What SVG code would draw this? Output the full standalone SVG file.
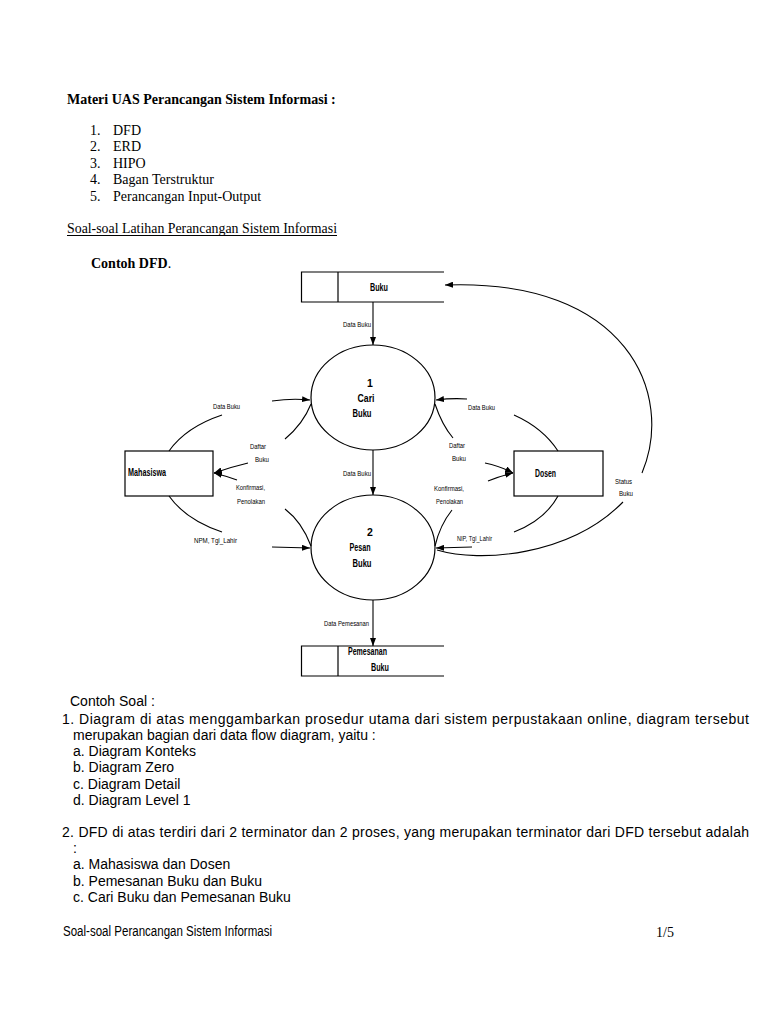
<svg xmlns="http://www.w3.org/2000/svg" width="768" height="1024" viewBox="0 0 768 1024">
<style>
.serif{font-family:"Liberation Serif","Times New Roman",serif;font-size:14px;fill:#000}
.sans{font-family:"Liberation Sans",Arial,sans-serif;font-size:14px;fill:#000}
.lbl{font-family:"Liberation Sans",Arial,sans-serif;font-size:8px;fill:#000}
.nl{font-family:"Liberation Sans",Arial,sans-serif;font-size:10.5px;font-weight:bold;fill:#000}
.ln{fill:none;stroke:#000;stroke-width:1.1}
.shape{fill:#fff;stroke:#000;stroke-width:1.2}
</style>
<defs>
<marker id="ah" markerWidth="8" markerHeight="6" refX="8" refY="3" orient="auto" markerUnits="userSpaceOnUse">
<path d="M0,0 L8,3 L0,6 Z" fill="#000"/>
</marker>
</defs>
<rect width="768" height="1024" fill="#fff"/>

<g id="header">
<text class="serif" x="67" y="104" font-weight="bold" font-size="13.2">Materi UAS Perancangan Sistem Informasi :</text>
<text class="serif" x="90" y="135">1.</text><text class="serif" x="113" y="135">DFD</text>
<text class="serif" x="90" y="151">2.</text><text class="serif" x="113" y="151">ERD</text>
<text class="serif" x="90" y="168">3.</text><text class="serif" x="113" y="168">HIPO</text>
<text class="serif" x="90" y="184">4.</text><text class="serif" x="113" y="184">Bagan Terstruktur</text>
<text class="serif" x="90" y="201">5.</text><text class="serif" x="113" y="201">Perancangan Input-Output</text>
<text class="serif" x="67" y="233" textLength="270" lengthAdjust="spacingAndGlyphs">Soal-soal Latihan Perancangan Sistem Informasi</text>
<line x1="67" y1="235.5" x2="337" y2="235.5" stroke="#000" stroke-width="1"/>
<text class="serif" x="91" y="268" font-weight="bold">Contoh DFD<tspan font-weight="normal">.</tspan></text>
</g>

<g id="store-buku">
<path class="shape" d="M444,272 H301.5 V302 H444" />
<line x1="338" y1="272" x2="338" y2="302" stroke="#000" stroke-width="1.2"/>
<text class="nl" x="379" y="291" text-anchor="middle" textLength="18" lengthAdjust="spacingAndGlyphs">Buku</text>
</g>

<g id="store-pemesanan">
<path class="shape" d="M444,646 H301.5 V676 H444" />
<line x1="338" y1="646" x2="338" y2="676" stroke="#000" stroke-width="1.2"/>
<text class="nl" x="348" y="655" textLength="39" lengthAdjust="spacingAndGlyphs">Pemesanan</text>
<text class="nl" x="371" y="671" textLength="18" lengthAdjust="spacingAndGlyphs">Buku</text>
</g>

<g id="proc-1">
<ellipse class="shape" cx="373" cy="397.5" rx="62" ry="52.5"/>
<text class="nl" x="370" y="387" text-anchor="middle">1</text>
<text class="nl" x="366" y="402" text-anchor="middle" textLength="17" lengthAdjust="spacingAndGlyphs">Cari</text>
<text class="nl" x="362" y="417" text-anchor="middle" textLength="19" lengthAdjust="spacingAndGlyphs">Buku</text>
</g>

<g id="proc-2">
<ellipse class="shape" cx="373" cy="547.5" rx="62" ry="52.5"/>
<text class="nl" x="370" y="536" text-anchor="middle">2</text>
<text class="nl" x="360" y="551" text-anchor="middle" textLength="21" lengthAdjust="spacingAndGlyphs">Pesan</text>
<text class="nl" x="362" y="567" text-anchor="middle" textLength="19" lengthAdjust="spacingAndGlyphs">Buku</text>
</g>

<g id="mahasiswa">
<rect class="shape" x="125" y="451" width="88" height="45"/>
<text class="nl" x="128" y="476" textLength="38" lengthAdjust="spacingAndGlyphs">Mahasiswa</text>
</g>

<g id="dosen">
<rect class="shape" x="514" y="451" width="89" height="45"/>
<text class="nl" x="535" y="477" textLength="21" lengthAdjust="spacingAndGlyphs">Dosen</text>
</g>

<g id="connectors">
<line class="ln" x1="373" y1="302" x2="373" y2="345" marker-end="url(#ah)"/>
<line class="ln" x1="373" y1="450" x2="373" y2="495" marker-end="url(#ah)"/>
<line class="ln" x1="373" y1="600" x2="373" y2="646" marker-end="url(#ah)"/>

<path class="ln" d="M169,451 Q186,427 222,415"/>
<path class="ln" d="M272,401 Q292,398 310,400" marker-end="url(#ah)"/>
<path class="ln" d="M311,404 Q303,424 285,439"/>
<path class="ln" d="M248,463 Q231,467 214,473" marker-end="url(#ah)"/>
<path class="ln" d="M311,546 Q302,522 285,509"/>
<path class="ln" d="M237,480 Q226,476 214,473" marker-end="url(#ah)"/>
<path class="ln" d="M169,496 Q186,520 222,532"/>
<path class="ln" d="M272,547 L310,548" marker-end="url(#ah)"/>

<path class="ln" d="M558,451 Q543,428 514,415"/>
<path class="ln" d="M467,399 Q452,398 436,400" marker-end="url(#ah)"/>
<path class="ln" d="M435,404 Q442,425 453,438"/>
<path class="ln" d="M485,463 Q500,466 513,473" marker-end="url(#ah)"/>
<path class="ln" d="M488,481 Q500,476 513,473" marker-end="url(#ah)"/>
<path class="ln" d="M435,546 Q440,525 452,510"/>
<path class="ln" d="M558,496 Q545,520 514,532"/>
<path class="ln" d="M472,547 L436,548" marker-end="url(#ah)"/>

<path class="ln" d="M437,550 C480,563 570,556 623,502"/>
<path class="ln" d="M642,473 C675,395 628,278 445,285" marker-end="url(#ah)"/>

<text class="lbl" x="343" y="327" textLength="28" lengthAdjust="spacingAndGlyphs">Data Buku</text>
<text class="lbl" x="343" y="476" textLength="28" lengthAdjust="spacingAndGlyphs">Data Buku</text>
<text class="lbl" x="324" y="626" textLength="45" lengthAdjust="spacingAndGlyphs">Data Pemesanan</text>
<text class="lbl" x="213" y="409" textLength="27" lengthAdjust="spacingAndGlyphs">Data Buku</text>
<text class="lbl" x="250" y="449" textLength="16" lengthAdjust="spacingAndGlyphs">Daftar</text>
<text class="lbl" x="255" y="462" textLength="14" lengthAdjust="spacingAndGlyphs">Buku</text>
<text class="lbl" x="236" y="490" textLength="29" lengthAdjust="spacingAndGlyphs">Konfirmasi,</text>
<text class="lbl" x="237" y="504" textLength="28" lengthAdjust="spacingAndGlyphs">Penolakan</text>
<text class="lbl" x="194" y="543" textLength="43" lengthAdjust="spacingAndGlyphs">NPM, Tgl_Lahir</text>
<text class="lbl" x="468" y="410" textLength="27" lengthAdjust="spacingAndGlyphs">Data Buku</text>
<text class="lbl" x="449" y="448" textLength="16" lengthAdjust="spacingAndGlyphs">Daftar</text>
<text class="lbl" x="452" y="461" textLength="14" lengthAdjust="spacingAndGlyphs">Buku</text>
<text class="lbl" x="434" y="491" textLength="30" lengthAdjust="spacingAndGlyphs">Konfirmasi,</text>
<text class="lbl" x="436" y="504" textLength="27" lengthAdjust="spacingAndGlyphs">Penolakan</text>
<text class="lbl" x="457" y="541" textLength="35" lengthAdjust="spacingAndGlyphs">NIP, Tgl_Lahir</text>
<text class="lbl" x="615" y="484" textLength="17" lengthAdjust="spacingAndGlyphs">Status</text>
<text class="lbl" x="619" y="496" textLength="14" lengthAdjust="spacingAndGlyphs">Buku</text>
</g>

<g id="questions">
<text class="sans" x="70" y="706">Contoh Soal :</text>
<text class="sans" x="62" y="724" textLength="687" lengthAdjust="spacing">1. Diagram di atas menggambarkan prosedur utama dari sistem perpustakaan online, diagram tersebut</text>
<text class="sans" x="73" y="740">merupakan bagian dari data flow diagram, yaitu  :</text>
<text class="sans" x="73" y="756">a. Diagram Konteks</text>
<text class="sans" x="73" y="772">b. Diagram Zero</text>
<text class="sans" x="73" y="789">c. Diagram Detail</text>
<text class="sans" x="73" y="805">d. Diagram Level 1</text>
<text class="sans" x="62" y="837" textLength="687" lengthAdjust="spacing">2. DFD di atas terdiri dari 2 terminator dan 2 proses, yang merupakan terminator dari DFD tersebut adalah</text>
<text class="sans" x="73" y="853">:</text>
<text class="sans" x="73" y="869">a. Mahasiswa dan Dosen</text>
<text class="sans" x="73" y="886">b. Pemesanan Buku dan Buku</text>
<text class="sans" x="73" y="902">c. Cari Buku dan Pemesanan Buku</text>
</g>

<g id="footer">
<text class="sans" x="63" y="936" font-size="10.5" textLength="209" lengthAdjust="spacingAndGlyphs">Soal-soal Perancangan Sistem Informasi</text>
<text class="serif" x="656" y="937">1/5</text>
</g>
</svg>
